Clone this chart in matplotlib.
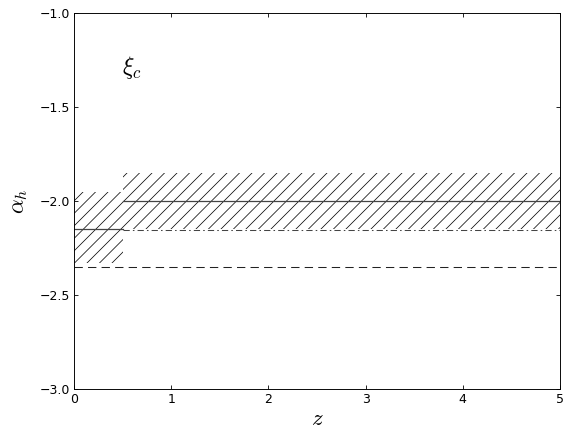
import numpy as np
import matplotlib
matplotlib.use('Agg')
import matplotlib.pyplot as plt

plt.rcParams['mathtext.fontset'] = 'cm'
plt.rcParams['hatch.linewidth'] = 0.7

# Data
z_low = [0.0, 0.5]
z_high = [0.5, 5.0]
z_all = [0.0, 5.0]

low_center = -2.15
low_band = (-2.33, -1.95)

high_center = -2.0
high_band = (-2.15, -1.85)
high_lower = -2.155

dashed_level = -2.35

xticks = [0, 1, 2, 3, 4, 5]
yticks = [-3.0, -2.5, -2.0, -1.5, -1.0]

fig = plt.figure(figsize=(570 / 75, 433 / 75), dpi=75)
ax = fig.add_axes([74 / 570, 1 - 389 / 433, (560 - 74) / 570, (389 - 13) / 433])

# hatched bands
ax.fill_between(z_low, low_band[0], low_band[1], facecolor='none',
                edgecolor='black', hatch='//', linewidth=0)
ax.fill_between(z_high, high_band[0], high_band[1], facecolor='none',
                edgecolor='black', hatch='//', linewidth=0)

# lines
ax.plot(z_low, [low_center, low_center], color='#444444', lw=1.2)
ax.plot(z_high, [high_center, high_center], color='#444444', lw=1.2)
ax.plot(z_high, [high_lower, high_lower], color='#444444', lw=1.0,
        linestyle=(0, (6, 3, 1.5, 3)))
ax.plot(z_all, [dashed_level, dashed_level], color='#222222', lw=1.0,
        linestyle=(0, (8, 5)))

ax.text(0.59, -1.29, r'$\xi_c$', fontsize=23, ha='center', va='center')

ax.set_xlim(0, 5)
ax.set_ylim(-3, -1)
ax.set_xticks(xticks)
ax.set_yticks(yticks)
ax.set_yticklabels([f'{v:.1f}'.replace('-', '\u2212') for v in yticks])
ax.tick_params(direction='in', top=True, right=True, length=4, width=0.8,
               labelsize=12)
for s in ax.spines.values():
    s.set_linewidth(0.9)

ax.set_xlabel(r'$z$', fontsize=22, labelpad=1)
ax.set_ylabel(r'$\alpha_h$', fontsize=22, labelpad=10)

fig.savefig('out.png', dpi=75)
